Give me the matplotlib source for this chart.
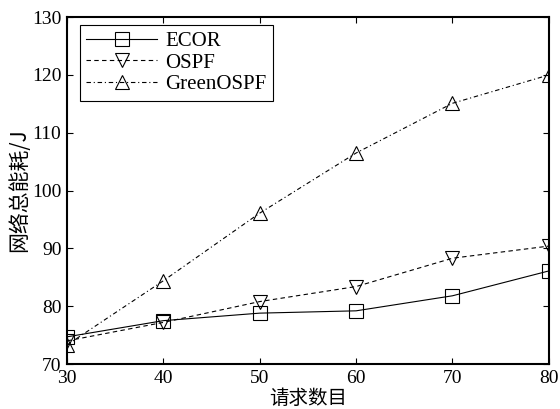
import numpy as np
from matplotlib import pyplot as plt

# data
requests = [30, 40, 50, 60, 70, 80]
ecor = [74.7, 77.5, 78.8, 79.2, 81.8, 86.1]
ospf = [74.0, 77.2, 80.8, 83.4, 88.3, 90.4]
green_ospf = [73.3, 84.4, 96.1, 106.5, 115.1, 120.0]

plt.rcParams['font.family'] = ['Liberation Serif', 'Noto Sans CJK SC']

fig = plt.figure(figsize=(5.6, 4.09), dpi=100)
ax = fig.add_axes([0.1196, 0.110, 0.8604, 0.848])

mk = dict(markersize=9.5, markerfacecolor='none', markeredgecolor='k', markeredgewidth=0.8)
ax.plot(requests, ecor, '-', color='k', lw=0.8, marker='s', label='ECOR', **mk)
ax.plot(requests, ospf, '--', color='k', lw=0.8, marker='v', label='OSPF', dashes=(4, 3), **mk)
ax.plot(requests, green_ospf, '-.', color='k', lw=0.8, marker='^', label='GreenOSPF',
        dashes=(4, 2.5, 1, 2.5), **mk)

ax.set_xlim(30, 80)
ax.set_ylim(70, 130)
ax.set_xticks(np.arange(30, 81, 10))
ax.set_yticks(np.arange(70, 131, 10))
ax.tick_params(direction='in', top=True, right=True, labelsize=14, length=4, width=0.8, pad=4)
for s in ax.spines.values():
    s.set_linewidth(1.5)

ax.set_xlabel('请求数目', fontsize=14, family=['Noto Sans CJK SC'], labelpad=1)
ax.set_ylabel('网络总能耗/J', fontsize=15, family=['Noto Sans CJK SC'], labelpad=1)

leg = ax.legend(loc='upper left', bbox_to_anchor=(13 / 482, 1 - 8 / 347), borderaxespad=0,
                fontsize=15, handlelength=3.4, fancybox=False, edgecolor='k', framealpha=1,
                labelspacing=0.1, borderpad=0.3, handletextpad=0.4)
leg.get_frame().set_linewidth(0.8)

plt.savefig('out.png', dpi=100)
